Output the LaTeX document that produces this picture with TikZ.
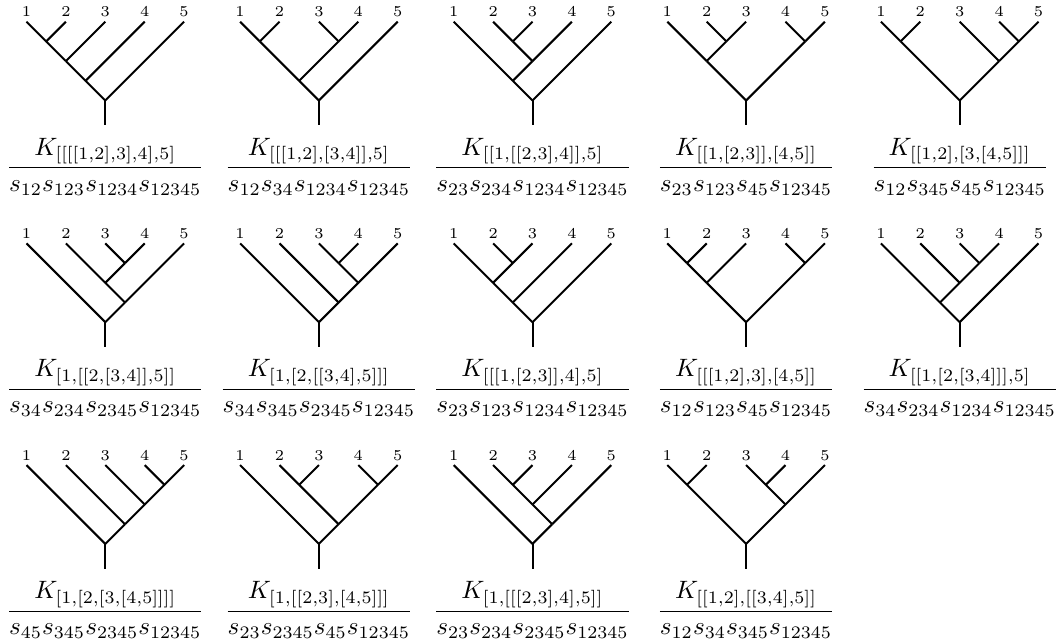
\documentclass[tikz,border=0pt]{standalone}
\usepackage{amsmath}
\tikzset{
  branch/.style={line width=0.8pt, line cap=butt},
  leaflab/.style={inner sep=0pt, anchor=base, font=\fontsize{6}{7}\selectfont},
  fraclab/.style={inner sep=0pt, anchor=base}
}
% #1 id, #2 centre x, #3 top y, #4 edges child/parent, #5 K index, #6 denominator
\newcommand\mytree[6]{%
  \foreach \a in {1,...,5}{%
    \foreach \b in {\a,...,5}{%
      \coordinate (#1-\a\b) at ({#2+((\a+\b)/2-3)*39.4},{#3+(\b-\a)/2*39.4});
    }%
  }%
  \coordinate (#1-st) at ({#2},{#3+2*39.4+25});
  \foreach \a in {1,...,5}{%
    \node[leaflab] (#1-l\a) at ({#2+(\a-3)*39.4},{#3-5}) {\a};
  }%
  \foreach \c/\p in {#4}{\draw[branch] (#1-\c) -- (#1-\p);}%
  \draw[branch] (#1-15) -- (#1-st);
  \node[fraclab] (#1-f) at ({#2},{#3+152.3}) {$\dfrac{K_{#5}}{#6}$};
}
\begin{document}
\begin{tikzpicture}[x=0.398pt, y=-0.398pt]
\useasboundingbox (0,0) rectangle (1062,641);
% row 1
\mytree{a}{105.3}{21.7}{11/12,22/12,12/13,33/13,13/14,44/14,14/15,55/15}{[[[[1,2],3],4],5]}{s_{12}s_{123}s_{1234}s_{12345}}
\mytree{b}{318.9}{21.7}{11/12,22/12,33/34,44/34,12/14,34/14,14/15,55/15}{[[[1,2],[3,4]],5]}{s_{12}s_{34}s_{1234}s_{12345}}
\mytree{c}{532.5}{21.7}{22/23,33/23,23/24,44/24,11/14,24/14,14/15,55/15}{[[1,[[2,3],4]],5]}{s_{23}s_{234}s_{1234}s_{12345}}
\mytree{d}{746.1}{21.7}{22/23,33/23,11/13,23/13,44/45,55/45,13/15,45/15}{[[1,[2,3]],[4,5]]}{s_{23}s_{123}s_{45}s_{12345}}
\mytree{e}{959.7}{21.7}{11/12,22/12,44/45,55/45,33/35,45/35,12/15,35/15}{[[1,2],[3,[4,5]]]}{s_{12}s_{345}s_{45}s_{12345}}
% row 2
\mytree{f}{105.3}{243.4}{33/34,44/34,22/24,34/24,24/25,55/25,11/15,25/15}{[1,[[2,[3,4]],5]]}{s_{34}s_{234}s_{2345}s_{12345}}
\mytree{g}{318.9}{243.4}{33/34,44/34,34/35,55/35,22/25,35/25,11/15,25/15}{[1,[2,[[3,4],5]]]}{s_{34}s_{345}s_{2345}s_{12345}}
\mytree{h}{532.5}{243.4}{22/23,33/23,11/13,23/13,13/14,44/14,14/15,55/15}{[[[1,[2,3]],4],5]}{s_{23}s_{123}s_{1234}s_{12345}}
\mytree{i}{746.1}{243.4}{11/12,22/12,12/13,33/13,44/45,55/45,13/15,45/15}{[[[1,2],3],[4,5]]}{s_{12}s_{123}s_{45}s_{12345}}
\mytree{j}{959.7}{243.4}{33/34,44/34,22/24,34/24,11/14,24/14,14/15,55/15}{[[1,[2,[3,4]]],5]}{s_{34}s_{234}s_{1234}s_{12345}}
% row 3
\mytree{k}{105.3}{465.1}{44/45,55/45,33/35,45/35,22/25,35/25,11/15,25/15}{[1,[2,[3,[4,5]]]]}{s_{45}s_{345}s_{2345}s_{12345}}
\mytree{l}{318.9}{465.1}{22/23,33/23,44/45,55/45,23/25,45/25,11/15,25/15}{[1,[[2,3],[4,5]]]}{s_{23}s_{2345}s_{45}s_{12345}}
\mytree{m}{532.5}{465.1}{22/23,33/23,23/24,44/24,24/25,55/25,11/15,25/15}{[1,[[[2,3],4],5]]}{s_{23}s_{234}s_{2345}s_{12345}}
\mytree{n}{746.1}{465.1}{11/12,22/12,33/34,44/34,34/35,55/35,12/15,35/15}{[[1,2],[[3,4],5]]}{s_{12}s_{34}s_{345}s_{12345}}
\end{tikzpicture}
\end{document}
